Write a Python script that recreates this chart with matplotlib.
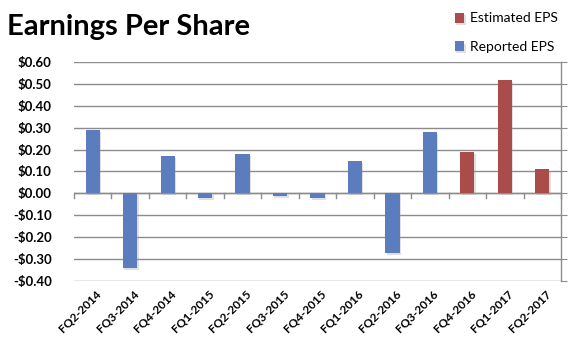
import matplotlib.pyplot as plt
import matplotlib.patheffects as pe
import numpy as np

quarters = ['FQ2-2014', 'FQ3-2014', 'FQ4-2014', 'FQ1-2015', 'FQ2-2015', 'FQ3-2015',
            'FQ4-2015', 'FQ1-2016', 'FQ2-2016', 'FQ3-2016', 'FQ4-2016', 'FQ1-2017', 'FQ2-2017']
reported = [0.29, -0.34, 0.17, -0.02, 0.18, -0.01, -0.02, 0.15, -0.27, 0.28, None, None, None]
estimated = [None] * 10 + [0.19, 0.52, 0.11]
yticks = [-0.4, -0.3, -0.2, -0.1, 0.0, 0.1, 0.2, 0.3, 0.4, 0.5, 0.6]

plt.rcParams['font.family'] = ['Lato', 'DejaVu Sans']

blue = '#5B7DBD'
red = '#A94C4A'
grid = '#8C8C8C'

fig = plt.figure(figsize=(5.78, 3.55), dpi=100)
ax = fig.add_axes([0.128, 0.2085, 0.8426, 0.6169])

x = np.arange(len(quarters))
shadow = [pe.SimplePatchShadow(offset=(1, -1.5), shadow_rgbFace='#999999', alpha=0.3), pe.Normal()]
rep_x = [i for i, v in zip(x, reported) if v is not None]
rep_v = [v for v in reported if v is not None]
est_x = [i for i, v in zip(x, estimated) if v is not None]
est_v = [v for v in estimated if v is not None]
b1 = ax.bar(rep_x, rep_v, width=0.38, color=blue, zorder=3, label='Reported EPS')
b2 = ax.bar(est_x, est_v, width=0.38, color=red, zorder=3, label='Estimated EPS')
for p in list(b1) + list(b2):
    p.set_path_effects(shadow)

ax.set_xlim(-0.5, len(quarters) - 0.5)
ax.set_ylim(-0.4, 0.6)
ax.set_yticks(yticks)
ax.set_yticklabels([('-$%.2f' % abs(v)) if v < 0 else ('$%.2f' % v) for v in yticks],
                   fontsize=9.5, fontweight='bold')
ax.yaxis.grid(True, color=grid, linewidth=1.0, zorder=0)
ax.tick_params(axis='y', left=False, right=True, labelleft=True, direction='out',
               length=4, color=grid, pad=12)

for s in ['top', 'left', 'bottom']:
    ax.spines[s].set_visible(False)
ax.spines['right'].set_color(grid)
ax.spines['right'].set_linewidth(1.0)

# category axis at zero with boundary ticks
ax.axhline(0, color=grid, linewidth=1.0, zorder=2)
for b in np.arange(-0.5, len(quarters) - 0.4, 1.0):
    ax.plot([b, b], [0, -0.022], color=grid, linewidth=1.0, zorder=2, clip_on=False)

ax.set_xticks(x)
ax.set_xticklabels([])
ax.tick_params(axis='x', bottom=False)
for i, q in enumerate(quarters):
    ax.annotate(q, xy=(i, -0.4), xytext=(2, -5), textcoords='offset points',
                rotation=45, ha='right', va='top', rotation_mode='anchor',
                fontsize=8.5, fontweight='bold', annotation_clip=False)

fig.text(0.012, 0.96, 'Earnings Per Share', fontsize=21, fontweight='bold', va='top')

fig.legend(handles=[b2, b1], labels=['Estimated EPS', 'Reported EPS'],
           loc='upper left', bbox_to_anchor=(0.765, 1.0), frameon=False,
           fontsize=10, handlelength=0.7, handleheight=0.7, handletextpad=0.4,
           labelspacing=1.2)

fig.savefig('out.png', dpi=100)
